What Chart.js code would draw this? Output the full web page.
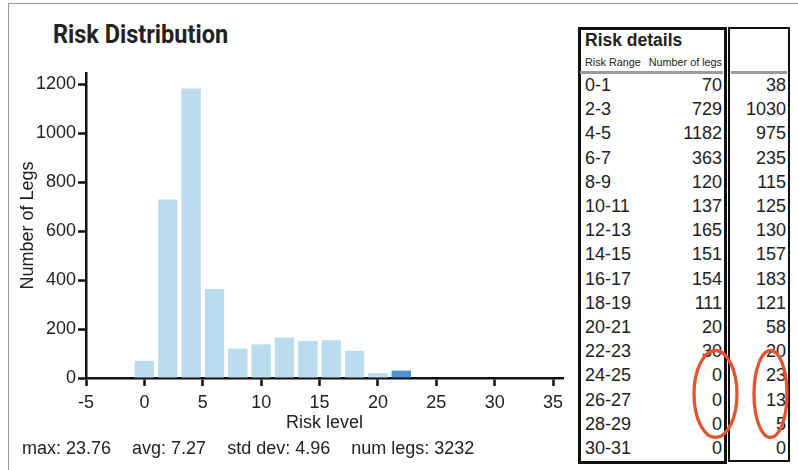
<!DOCTYPE html>
<html>
<head>
<meta charset="utf-8">
<script src="https://cdn.jsdelivr.net/npm/chart.js@4.4.1/dist/chart.umd.min.js"></script>
<style>
  html, body { margin: 0; padding: 0; background: #fff; }
  body { width: 798px; height: 470px; position: relative; overflow: hidden;
         font-family: 'Liberation Sans', Arial, sans-serif; color: #222; }
  #frame { position: absolute; left: 8px; top: 3px; right: 0; bottom: 0;
           border-left: 1.5px solid #9c9c9c; border-top: 1.5px solid #9c9c9c; }
  #chart { position: absolute; left: 0; top: 0; }
  #title { position: absolute; left: 53px; top: 20px; line-height: 30px;
           font-family: Roboto, sans-serif; font-weight: bold; font-size: 25px;
           transform: scaleX(0.94); transform-origin: left center; white-space: nowrap; }
  #stats { position: absolute; left: 22px; top: 438px; line-height: 20px; font-size: 18px;
           display: flex; gap: 21px; white-space: nowrap; }
  .box { position: absolute; box-sizing: border-box; border: 3px solid #111; }
  .sep { position: absolute; height: 3px; background: #9a9a9a; }
  .cell { position: absolute; line-height: 20px; font-size: 18px; white-space: nowrap; }
  #marks { position: absolute; left: 0; top: 0; }
</style>
</head>
<body>
<div id="frame"></div>
<div id="title">Risk Distribution</div>
<canvas id="chart" width="578" height="470"></canvas>
<div id="stats"></div>
<div id="details"></div>
<svg id="marks" width="798" height="470">
  <ellipse cx="715.5" cy="394" rx="21.5" ry="43.5" fill="none" stroke="#e5532f" stroke-width="3.3"/>
  <ellipse cx="770.5" cy="394" rx="16.5" ry="43.5" fill="none" stroke="#e5532f" stroke-width="3.3"/>
</svg>
<script>
// Data
const riskRanges = ['0-1', '2-3', '4-5', '6-7', '8-9', '10-11', '12-13', '14-15',
  '16-17', '18-19', '20-21', '22-23', '24-25', '26-27', '28-29', '30-31'];
const binStarts = [0, 2, 4, 6, 8, 10, 12, 14, 16, 18, 20, 22, 24, 26, 28, 30];
const legsCurrent = [70, 729, 1182, 363, 120, 137, 165, 151, 154, 111, 20, 30, 0, 0, 0, 0];
const legsCompare = [38, 1030, 975, 235, 115, 125, 130, 157, 183, 121, 58, 20, 23, 13, 5, 0];
const highlightRange = '22-23';
const statNames = ['max', 'avg', 'std dev', 'num legs'];
const statValues = ['23.76', '7.27', '4.96', '3232'];

const LIGHT = '#badcee';
const DARK = '#4b90d1';
const AXIS = '#111';

Chart.defaults.font.family = "'Liberation Sans', Arial, sans-serif";
Chart.defaults.color = '#222';

const plainLabel = (value) => String(value);

new Chart(document.getElementById('chart'), {
  type: 'bar',
  data: {
    datasets: [{
      data: binStarts.map((x, i) => ({ x, y: legsCurrent[i] })),
      backgroundColor: riskRanges.map(r => r === highlightRange ? DARK : LIGHT),
      borderWidth: 0,
      barPercentage: 0.83,
      categoryPercentage: 1,
    }],
  },
  options: {
    responsive: false,
    animation: false,
    layout: { padding: { top: 73, right: 15, left: 0, bottom: 0 } },
    plugins: { legend: { display: false }, tooltip: { enabled: false } },
    scales: {
      x: {
        type: 'linear',
        min: -5,
        max: 35.85,
        offset: false,
        afterFit: (scale) => { scale.height = 92; },
        ticks: { stepSize: 5, includeBounds: false, padding: 6, font: { size: 18 }, callback: plainLabel },
        grid: { offset: false, drawOnChartArea: false, tickLength: 8, tickWidth: 2.5, tickColor: AXIS },
        border: { display: true, color: AXIS, width: 2.5 },
        title: { display: true, text: 'Risk level', font: { size: 18 }, padding: { top: 0, bottom: 36 } },
      },
      y: {
        min: 0,
        max: 1245,
        afterFit: (scale) => { scale.width = 86; },
        ticks: { stepSize: 200, includeBounds: false, padding: 2, font: { size: 18 }, callback: plainLabel },
        grid: { drawOnChartArea: false, tickLength: 8, tickWidth: 2.5, tickColor: AXIS },
        border: { display: true, color: AXIS, width: 2.5 },
        title: { display: true, text: 'Number of Legs', font: { size: 18 }, padding: { top: 17, bottom: 0 } },
      },
    },
  },
});

// Stats line
const stats = document.getElementById('stats');
statNames.forEach((name, i) => {
  const span = document.createElement('span');
  span.textContent = `${name}: ${statValues[i]}`;
  stats.appendChild(span);
});

// Risk details table
const details = document.getElementById('details');

function place(text, x, y, align, extra) {
  const el = document.createElement('div');
  el.className = 'cell';
  el.textContent = text;
  if (align === 'right') el.style.right = (798 - x) + 'px';
  else el.style.left = x + 'px';
  el.style.top = (y - 10) + 'px';
  if (extra) Object.assign(el.style, extra);
  details.appendChild(el);
}

function box(left, top, width, height, bw) {
  const el = document.createElement('div');
  el.className = 'box';
  Object.assign(el.style, { left: left + 'px', top: top + 'px', width: width + 'px', height: height + 'px', borderWidth: bw + 'px' });
  details.appendChild(el);
}

function sep(left, width) {
  const el = document.createElement('div');
  el.className = 'sep';
  Object.assign(el.style, { left: left + 'px', width: width + 'px', top: '71px' });
  details.appendChild(el);
}

box(578, 27, 149, 437, 3);
box(728, 27, 62, 435, 2.5);
sep(580, 143);
sep(731, 56);

place('Risk details', 585, 40, 'left', { fontWeight: 'bold', fontSize: '17.5px' });
place('Risk Range', 585, 62, 'left', { fontSize: '10.8px' });
place('Number of legs', 722, 62, 'right', { fontSize: '10.8px' });

riskRanges.forEach((range, i) => {
  const y = 85 + i * 24.2;
  place(range, 585, y, 'left');
  place(String(legsCurrent[i]), 722, y, 'right');
  place(String(legsCompare[i]), 786, y, 'right');
});
</script>
</body>
</html>
